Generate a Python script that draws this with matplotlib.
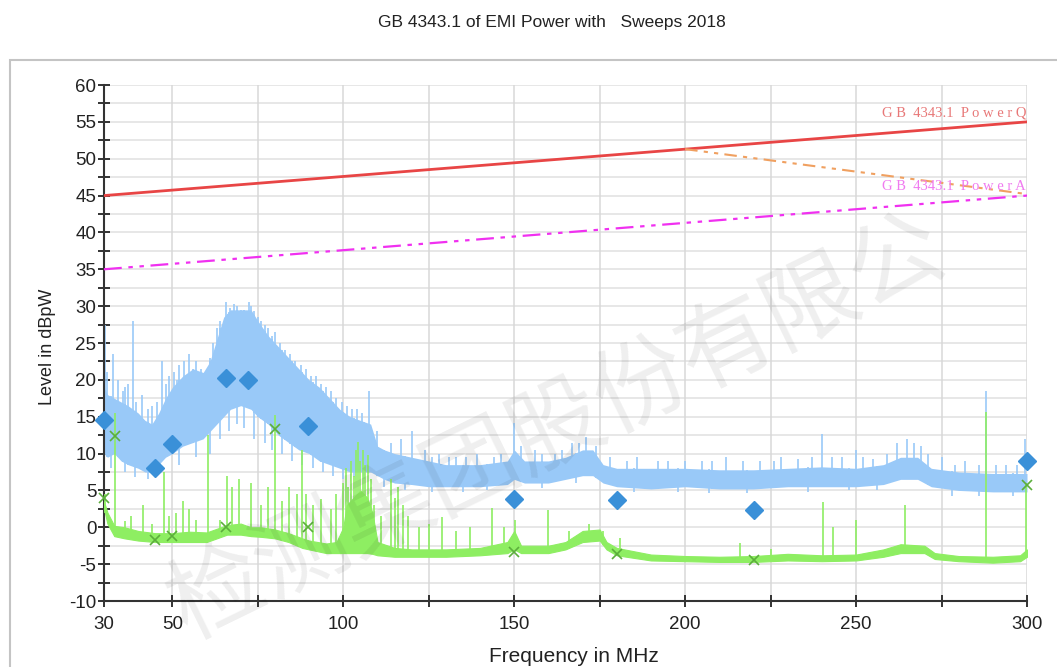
import numpy as np
import matplotlib.pyplot as plt
from matplotlib.patches import Rectangle

plt.rcParams['axes.unicode_minus'] = False

# limit lines (GB 4343.1 disturbance power)
limit_f = [30, 300]
limit_qp = [45, 55]
limit_av = [35, 45]
extra_f = [200, 300]
extra_v = [51.3, 45.2]

# peak trace envelope (MHz, dBpW)
blue_f = [30, 31, 33, 35, 37, 40, 42, 44, 46, 48, 50, 53, 56, 59, 61, 63, 65, 67, 70, 73, 75, 78, 81, 84,
          87, 90, 93, 96, 99, 102, 105, 108, 110, 112, 115, 120, 125, 130, 140, 148, 150, 153, 160, 165,
          170, 173, 176, 180, 190, 200, 210, 220, 230, 240, 250, 258, 263, 268, 272, 280, 290, 300]
blue_lo = [10, 9.5, 10, 9, 8.5, 8, 7.5, 7.5, 8.5, 9.5, 10, 11, 11.5, 12, 13, 14, 15, 16, 16.5, 16, 15, 14,
           12.5, 11.5, 10.5, 10, 9, 8.5, 8, 7.5, 7.5, 7.5, 7, 6.5, 6, 5.8, 5.5, 5.5, 5.5, 5.8, 6.5, 6, 6,
           6.5, 7, 7, 6, 5.5, 5.2, 5.5, 5.2, 5.2, 5.5, 5.5, 5.5, 5.8, 6.5, 6.5, 5.5, 5, 4.8, 4.8]
blue_hi = [19, 18, 17.5, 17, 16.5, 15.5, 14.5, 14, 15.5, 17.5, 19, 20.5, 21.5, 21, 22.5, 25.5, 28.5, 29.5,
           29.5, 29.5, 28, 26, 24.5, 23, 21.5, 20, 19, 17.5, 16, 15, 14.5, 14, 11, 10.5, 10, 9.5, 9, 8.5,
           8.5, 9, 10.5, 9, 9, 9.5, 10.5, 10.5, 8.5, 8, 8, 8, 7.8, 7.8, 8, 8.2, 8, 8.5, 9.5, 9.5, 8, 7.5,
           7.3, 7.3]
blue_spike_f = [30.2, 31, 32.5, 34, 35.5, 36, 37, 38.5, 39.5, 41, 43, 44, 45.5, 47, 48, 49, 50.5, 51.5,
                52, 53.5, 55, 56, 57, 58.5, 60, 61, 62, 63, 64, 65.7, 66.2, 67, 68, 69, 70, 71, 72.3, 73,
                74, 75, 76, 77, 78, 79, 80, 81.5, 83, 84.5, 86, 87.5, 89, 90.5, 92, 93.5, 95, 96.5, 98,
                99.5, 101, 102.5, 104, 105.5, 107.5, 110, 114, 117, 120, 124, 126, 128, 131, 133, 136,
                139, 144, 146, 150, 152, 156, 158, 162, 164, 167, 169, 171, 174, 178, 183, 186, 192, 195,
                200, 205, 208, 212, 217, 222, 226, 228, 233, 237, 240, 243, 246, 250, 252, 255, 259, 262,
                265, 267, 269, 271, 275, 279, 282, 286, 288, 291, 294, 297, 299.5]
blue_spike_v = [27.5, 21, 23.5, 20, 18.5, 19, 19.5, 28, 17, 18, 16, 16.5, 17, 22.5, 19.5, 20.5, 21, 20,
                22, 22.5, 23.5, 21.5, 22.5, 21.5, 21.5, 23, 25, 27, 28, 30.5, 29, 29.8, 30.3, 30, 29.5,
                29.5, 30.5, 30, 29.3, 28.5, 28, 27.5, 27, 26, 26.5, 25, 24, 23.5, 22.5, 22, 21.5, 20.5,
                20.5, 19.5, 19, 18.5, 17.5, 17, 16.5, 16, 16, 15.5, 18.5, 13, 11.5, 12, 13, 10.5, 9.5, 10,
                9.5, 9.5, 9.5, 10, 9.5, 10, 14.2, 11, 10.5, 10, 10, 10.5, 11.5, 11.5, 12.3, 11, 9.5, 9,
                9.5, 9, 9, 9, 9, 9, 9.5, 9, 9, 9, 9.5, 9.3, 9.5, 12.7, 9.5, 9.5, 10.5, 9.5, 9.3, 10, 11.5,
                12, 11.5, 11, 10, 9.5, 8.5, 9, 8.5, 18.5, 8.5, 8.5, 8.5, 12]
blue_dip_f = [32, 36, 39, 43, 52, 57, 61, 64, 66.5, 69, 71, 74, 77, 79, 82, 85, 88, 91, 94, 97, 100, 103,
              106, 112, 118, 126, 135, 142, 158, 168, 185, 198, 207, 218, 236, 248, 256, 278, 286, 296]
blue_dip_v = [8, 7.5, 6.8, 6.5, 8.5, 9.5, 10, 12, 13, 14, 13.5, 12, 11.5, 10.5, 10, 9, 8.5, 8, 7.5, 7,
              6.5, 6.8, 6.5, 5.5, 5, 4.8, 4.8, 5, 5.3, 6, 4.8, 4.8, 4.7, 4.7, 4.8, 5, 5, 4.3, 4.3, 4.3]

# average trace envelope
green_f = [30, 31, 33, 36, 40, 45, 50, 55, 60, 63, 66, 70, 73, 76, 80, 84, 88, 90, 95, 98, 100, 101, 103,
           105, 107, 108.5, 110, 115, 120, 130, 140, 148, 150, 152, 160, 165, 170, 175, 177, 180, 190, 200,
           210, 220, 230, 240, 250, 258, 263, 270, 273, 280, 290, 298, 300]
green_lo = [2.5, 0.5, -1.2, -1.5, -1.8, -2, -2, -2, -2, -1.5, -1, -1, -1.2, -1.3, -1.5, -2, -2.8, -3,
            -3.5, -3.5, -3.5, -3.5, -3.5, -3.5, -3.5, -3.6, -3.8, -4, -4, -4, -3.8, -3.5, -3, -3.5, -3.5,
            -3, -2, -1.8, -3, -3.8, -4.5, -4.6, -4.7, -4.7, -4.5, -4.6, -4.5, -4, -3.5, -3.5, -4.3, -4.6,
            -4.8, -4.6, -4]
green_hi = [3.5, 2, 0.2, 0, -0.5, -0.8, -0.8, -0.6, -0.7, -0.2, 0.3, 0.5, 0, 0, -0.3, -0.8, -1.5, -1.8,
            -2.2, -2, 0, 3, 4, 5, 4, 2, -2, -2.8, -3, -3, -2.8, -2, -0.5, -2.5, -2.5, -2, -0.5, -0.3, -2,
            -2.8, -3.7, -3.9, -4, -3.9, -3.6, -3.8, -3.7, -3, -2.3, -2.5, -3.5, -3.9, -4, -3.8, -3]
green_spike_f = [30.3, 33.3, 36, 38, 41.5, 44, 47.5, 49, 51, 53, 55, 57, 60.5, 64, 66, 67.5, 69.5, 73, 76,
                 78, 80, 82, 84, 86.5, 88, 89, 91, 93.5, 96.5, 98, 100, 100.8, 101.5, 102.3, 103, 103.7,
                 104.3, 105, 105.7, 106.4, 107.2, 108, 109, 111, 114, 115, 116, 117.5, 119, 122, 125, 129,
                 133, 137, 143.5, 147, 150.3, 160, 166, 172, 176, 181, 216, 225, 240.3, 243.3, 250, 264.3,
                 270, 288, 299.7]
green_spike_v = [4.5, 15.5, 0.8, 1.5, 3, 0.5, 7.5, 1.5, 2, 3.5, 2.5, 1, 12.5, 1, 7, 5.5, 6.5, 6, 3, 5.5,
                 15.2, 3.5, 5.5, 4.5, 10.5, 4.5, 3, 3.8, 2.5, 4.5, 6, 8, 5.5, 9, 7, 10.5, 11.6, 9, 10.5,
                 8.5, 9.8, 6.5, 3, 1.5, 6.5, 4, 5.5, 3, 1.5, 0, 0.5, 1.4, -0.5, 0, 2.6, 0, 1, 2.3, -0.5,
                 0.5, -0.5, -1.5, -2.1, -3, 3.4, 0, 1, 3, -2.5, 15.6, 6]

# final measurements
peak_f = [30, 45, 50, 65.7, 72.2, 89.8, 150, 180.2, 220, 300]
peak_v = [14.6, 8.0, 11.3, 20.3, 20.0, 13.8, 3.9, 3.7, 2.3, 9.0]
avg_f = [30, 33.3, 45, 50, 65.7, 80, 89.8, 150, 180.2, 220, 300]
avg_v = [4.0, 12.4, -1.7, -1.2, 0.0, 13.4, 0.0, -3.3, -3.6, -4.4, 5.8]

BLUE = '#99c9f8'
GREEN = '#8eee62'

fig = plt.figure(figsize=(10.57, 6.67), dpi=100)
fig.patches.append(Rectangle((10 / 1057, -0.1), 1.2, 1 - 60 / 667 + 0.1, transform=fig.transFigure,
                             fill=False, edgecolor='#c4c4c4', lw=1.5))
ax = fig.add_axes([104 / 1057, 1 - 601 / 667, 923 / 1057, 516 / 667])

# grid
for y in np.arange(-10, 60.1, 2.5):
    ax.axhline(y, color='#e0e0e0', lw=1.1, zorder=0)
for x in np.arange(50, 301, 25):
    ax.axvline(x, color='#d8d8d8', lw=1.1, zorder=0)

# traces
ax.fill_between(blue_f, blue_lo, blue_hi, color=BLUE, lw=0, zorder=2)
ax.vlines(blue_spike_f, np.interp(blue_spike_f, blue_f, blue_lo), blue_spike_v, color=BLUE, lw=1.2, zorder=2)
ax.vlines(blue_dip_f, blue_dip_v, np.interp(blue_dip_f, blue_f, blue_hi), color=BLUE, lw=1.2, zorder=2)
ax.fill_between(green_f, green_lo, green_hi, color=GREEN, lw=0.8, edgecolor=GREEN, zorder=3)
ax.vlines(green_spike_f, np.interp(green_spike_f, green_f, green_lo), green_spike_v, color=GREEN, lw=1.2,
          zorder=3)

# limit lines
ax.plot(limit_f, limit_qp, color='#e84545', lw=2, zorder=4)
ax.plot(limit_f, limit_av, color='#f030f0', lw=1.6, dashes=[8, 3, 2, 3, 2, 3], zorder=4)
ax.plot(extra_f, extra_v, color='#f0a060', lw=1.5, dashes=[6, 3, 2, 3, 2, 3], zorder=4)
ax.text(257.5, 56.2, 'G B  4343.1  P o w e r Q', color='#e87878', fontsize=10.5,
        family='Liberation Serif', va='center', ha='left', clip_on=False, zorder=5)
ax.text(257.5, 46.2, 'G B  4343.1  P o w e r A', color='#f07af0', fontsize=10.5,
        family='Liberation Serif', va='center', ha='left', clip_on=False, zorder=5)

# measurement markers
ax.plot(peak_f, peak_v, 'D', color='#3a90d8', ms=9, zorder=6, clip_on=False)
ax.plot(avg_f, avg_v, 'x', color='#5cae3c', ms=7, mew=1.2, zorder=6, clip_on=False)

ax.set_xlim(30, 300)
ax.set_ylim(-10, 60)
ax.set_xticks([30, 50, 75, 100, 125, 150, 175, 200, 225, 250, 275, 300])
ax.set_xticklabels(['30', '50', '', '100', '', '150', '', '200', '', '250', '', '300'])
ax.set_yticks(np.arange(-10, 61, 5))
ax.set_yticks(np.arange(-7.5, 60, 5), minor=True)
ax.tick_params(axis='both', direction='inout', length=9, width=1.4, color='#333333',
               labelsize=13.5, labelcolor='#222222', pad=1)
ax.tick_params(axis='y', which='minor', direction='inout', length=9, width=1.4, color='#333333')
ax.tick_params(axis='x', pad=6)
for lab in ax.get_xticklabels() + ax.get_yticklabels():
    lab.set_family('Liberation Sans')
for s in ['top', 'right']:
    ax.spines[s].set_visible(False)
for s in ['left', 'bottom']:
    ax.spines[s].set_color('#333333')
    ax.spines[s].set_linewidth(1.5)

fig.text(552 / 1057, 1 - 22 / 667, 'GB 4343.1 of EMI Power with   Sweeps 2018', ha='center', va='center',
         fontsize=12.5, family='Liberation Sans', color='#222222')
fig.text(574 / 1057, 1 - 656 / 667, 'Frequency in MHz', ha='center', va='center',
         fontsize=15, family='Liberation Sans', color='#222222')
fig.text(47 / 1057, 1 - 347 / 667, 'Level in dBpW', ha='center', va='center', rotation=90,
         fontsize=13, family='Liberation Sans', color='#222222')

# watermark
fig.text(558 / 1057, 1 - 428 / 667, '检测集团股份有限公', ha='center', va='center', rotation=26,
         fontsize=68, family=['Noto Sans CJK SC', 'DejaVu Sans'], color='#000000', alpha=0.065, zorder=10)

fig.savefig('out.png', dpi=100)
